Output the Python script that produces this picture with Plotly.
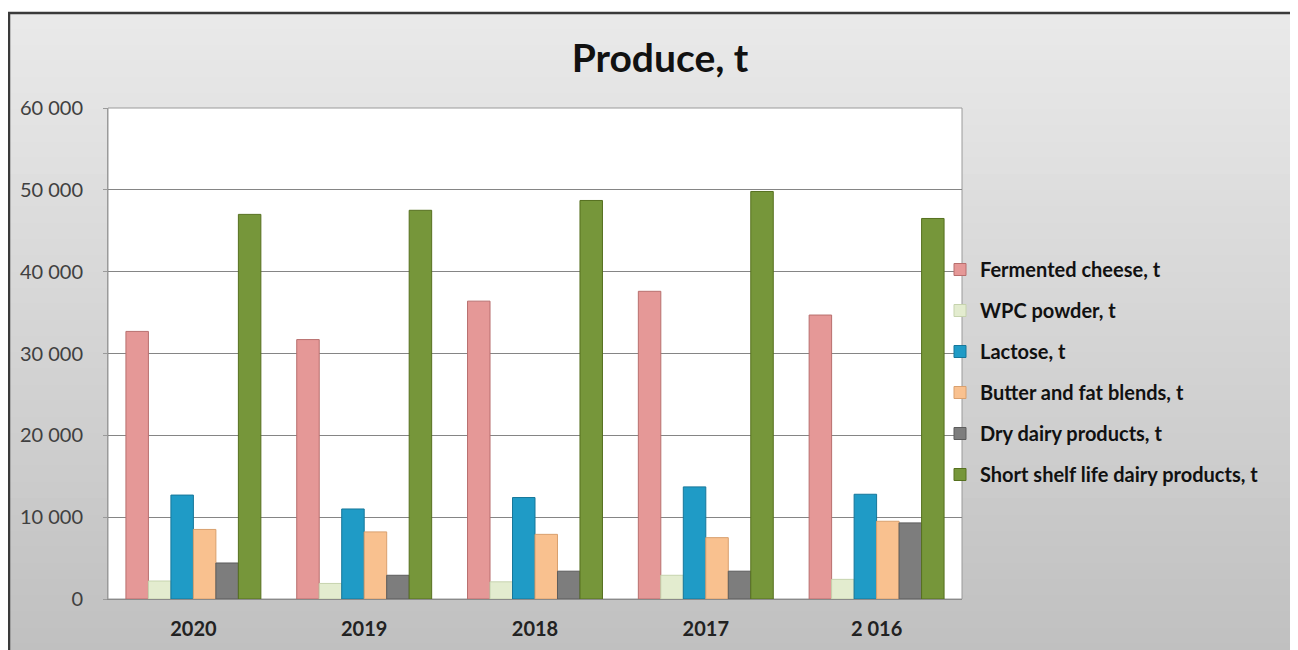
import plotly.graph_objects as go

years = ["2020", "2019", "2018", "2017", "2 016"]
series_names = ["Fermented cheese, t", "WPC powder, t", "Lactose, t",
                "Butter and fat blends, t", "Dry dairy products, t",
                "Short shelf life dairy products, t"]
fermented_cheese = [32700, 31700, 36400, 37600, 34700]
wpc_powder = [2200, 1900, 2100, 2900, 2400]
lactose = [12700, 11000, 12400, 13700, 12800]
butter = [8500, 8200, 7900, 7500, 9500]
dry_dairy = [4400, 2900, 3400, 3400, 9300]
short_shelf = [47000, 47500, 48700, 49800, 46500]
tick_vals = [0, 10000, 20000, 30000, 40000, 50000, 60000]
tick_text = ["0", "10 000", "20 000", "30 000", "40 000", "50 000", "60 000"]

all_values = [fermented_cheese, wpc_powder, lactose, butter, dry_dairy, short_shelf]
colors = ["#E59897", "#E3ECCF", "#1F9BC6", "#F9C18F", "#7D7D7D", "#76963A"]
line_colors = ["#B86F6E", "#C6D3AE", "#17779A", "#D9A06E", "#5C5C5C", "#56701F"]

OFF = 8  # page body margin
W, H = 1298, 650
# target plot area in page pixels: x 108..962, y 108..599
ML, MT = 108 - OFF, 108 - OFF
MR = W - (962 - OFF)
MB = H - (599 - OFF)
pw, ph = W - ML - MR, H - MT - MB

FONT = "Lato, Open Sans, sans-serif"

fig = go.Figure()
for i, (name, vals) in enumerate(zip(series_names, all_values)):
    fig.add_trace(go.Bar(
        x=years, y=vals, name=name,
        marker=dict(color=colors[i], line=dict(color=line_colors[i], width=1)),
        legendgroup=str(i),
    ))

def px2paper(x, y):
    # page pixel -> paper coords
    return (x - OFF - ML) / pw, (H - MB - (y - OFF)) / ph

shapes = []
n = 40
top_c = (233, 233, 233)
bot_c = (192, 192, 192)
for k in range(n):
    t = k / (n - 1)
    c = tuple(int(round(top_c[j] + (bot_c[j] - top_c[j]) * t)) for j in range(3))
    y0p = 12 + (H + 10 - 12) * k / n
    y1p = 12 + (H + 10 - 12) * (k + 1) / n + 1
    x0, y0 = px2paper(8, y0p)
    x1, y1 = px2paper(W + 20, y1p)
    shapes.append(dict(type="rect", xref="paper", yref="paper", x0=x0, x1=x1, y0=y1, y1=y0,
                       fillcolor="rgb(%d,%d,%d)" % c, line=dict(width=0), layer="below"))
# outer frame
x0, y0 = px2paper(9, 13)
x1, y1 = px2paper(W + 20, H + 20)
shapes.append(dict(type="rect", xref="paper", yref="paper", x0=x0, x1=x1, y0=y1, y1=y0,
                   fillcolor="rgba(0,0,0,0)", line=dict(color="#3A3A3A", width=2.5), layer="above"))
# plot area
shapes.append(dict(type="rect", xref="paper", yref="paper", x0=0, x1=1, y0=0, y1=1,
                   fillcolor="white", line=dict(color="#9A9A9A", width=1), layer="below"))

lx, ly = px2paper(940, 250)

fig.update_layout(
    width=W, height=H,
    margin=dict(l=ML, r=MR, t=MT, b=MB),
    paper_bgcolor="white",
    plot_bgcolor="white",
    shapes=shapes,
    barmode="group",
    bargap=0.21,
    bargroupgap=0.0,
    title=dict(text="<b>Produce, t</b>", x=(660 - OFF) / W, xanchor="center",
               y=1 - (58 - OFF) / H, yanchor="middle",
               font=dict(family=FONT, size=39, color="#111111")),
    font=dict(family=FONT, color="#404040"),
    xaxis=dict(showgrid=False, showline=True, linecolor="#8A8A8A", ticks="",
               tickfont=dict(size=20, color="#222222", family=FONT, weight="bold"),
               ticklabelstandoff=12),
    yaxis=dict(range=[0, 60000], tickvals=tick_vals, ticktext=tick_text,
               showgrid=True, gridcolor="#858585", gridwidth=1,
               showline=True, linecolor="#9A9A9A", ticks="outside", ticklen=4, tickcolor="#9A9A9A",
               tickfont=dict(size=20, color="#404040", family=FONT), zeroline=False,
               ticklabelstandoff=16),
    legend=dict(x=lx, y=ly, xanchor="left", yanchor="top",
                bgcolor="rgba(0,0,0,0)", tracegroupgap=12,
                font=dict(size=20, color="#111111", family=FONT, weight="bold"),
                itemwidth=30),
    showlegend=True,
)

fig.write_html("out.html")
